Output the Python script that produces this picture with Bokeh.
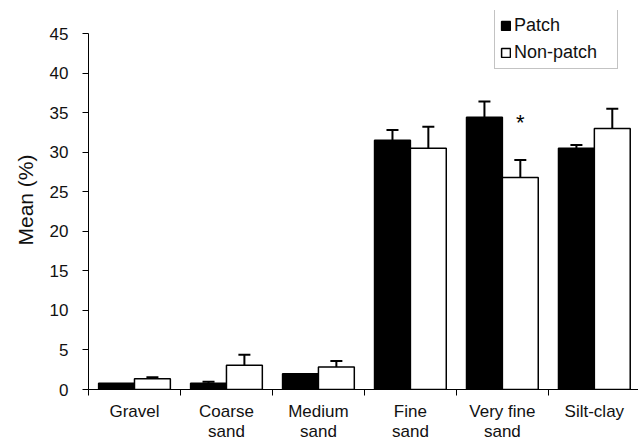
from bokeh.plotting import figure
from bokeh.models import (ColumnDataSource, FixedTicker, Whisker, TeeHead, Legend, LegendItem,
                          Range1d)
from bokeh.core.properties import value
from bokeh.embed import file_html
from bokeh.resources import INLINE

categories = ["Gravel", "Coarse\nsand", "Medium\nsand", "Fine\nsand", "Very fine\nsand", "Silt-clay"]
patch = [0.8, 0.8, 2.0, 31.5, 34.4, 30.5]
patch_err = [0.0, 0.17, 0.0, 1.3, 2.0, 0.4]
nonpatch = [1.35, 3.05, 2.85, 30.5, 26.8, 33.0]
nonpatch_err = [0.2, 1.35, 0.75, 2.7, 2.2, 2.5]
y_ticks = [0, 5, 10, 15, 20, 25, 30, 35, 40, 45]
sig_index = 4  # asterisk above non-patch bar of "Very fine sand"

FONT = "Liberation Sans"
n = len(categories)
off = 0.195
bw = 0.39
centers = [i + 0.5 for i in range(n)]

p = figure(width=638, height=444, output_backend="svg", toolbar_location=None,
           x_range=Range1d(0, 5.98), y_range=Range1d(0, 47.91),
           min_border_left=88, min_border_right=0, min_border_top=10, min_border_bottom=40)
p.outline_line_color = None
p.xgrid.grid_line_color = None
p.ygrid.grid_line_color = None
p.background_fill_color = "white"

src_p = ColumnDataSource(dict(x=[c - off for c in centers], top=patch))
src_n = ColumnDataSource(dict(x=[c + off for c in centers], top=nonpatch))

# error bars (upper only)
for xs, vs, es in ((src_p.data["x"], patch, patch_err), (src_n.data["x"], nonpatch, nonpatch_err)):
    keep = [k for k in range(n) if es[k] > 0]
    ws = ColumnDataSource(dict(x=[xs[k] for k in keep], lo=[vs[k] for k in keep],
                               hi=[vs[k] + es[k] for k in keep]))
    w = Whisker(source=ws, base="x", lower="lo", upper="hi", line_color="black", line_width=2,
                upper_head=TeeHead(size=12, line_color="black", line_width=2), lower_head=None)
    p.add_layout(w)

r1 = p.vbar(x="x", top="top", width=bw, source=src_p, fill_color="black", line_color="black",
            line_width=1.5)
r2 = p.vbar(x="x", top="top", width=bw, source=src_n, fill_color="white", line_color="black",
            line_width=1.5)

# significance asterisk
p.text(x=[centers[sig_index] + off], y=[nonpatch[sig_index] + nonpatch_err[sig_index] + 4.8],
       text=["*"], text_font=value(FONT), text_font_size="22px", text_align="center",
       text_baseline="middle", text_color="black")

# x axis: ticks at category boundaries, labels at centers
xa = p.xaxis[0]
xa.ticker = FixedTicker(ticks=centers, minor_ticks=list(range(n + 1)))
xa.major_label_overrides = {c: lab for c, lab in zip(centers, categories)}
xa.major_tick_out = 0
xa.major_tick_in = 0
xa.minor_tick_out = 6
xa.minor_tick_in = 0
xa.minor_tick_line_color = "black"
xa.axis_line_color = "black"
xa.major_label_text_font = FONT
xa.major_label_text_font_size = "17px"
xa.major_label_text_color = "#111111"
xa.major_label_standoff = 6
xa.major_label_text_line_height = 1.1

ya = p.yaxis[0]
ya.ticker = FixedTicker(ticks=y_ticks)
ya.bounds = (0, 45)
ya.minor_tick_line_color = None
ya.major_tick_out = 6
ya.major_tick_in = 0
ya.axis_line_color = "black"
ya.major_tick_line_color = "black"
ya.major_label_text_font = FONT
ya.major_label_text_font_size = "17px"
ya.major_label_text_color = "#111111"
ya.major_label_standoff = 14
ya.axis_label = "Mean (%)"
ya.axis_label_text_font = FONT
ya.axis_label_text_font_size = "21px"
ya.axis_label_text_font_style = "normal"
ya.axis_label_text_color = "#111111"
ya.axis_label_standoff = 10

legend = Legend(items=[LegendItem(label="Patch", renderers=[r1]),
                       LegendItem(label="Non-patch", renderers=[r2])],
                location=(406, 320), orientation="vertical")
legend.label_text_font = FONT
legend.label_text_font_size = "18px"
legend.label_text_color = "#111111"
legend.glyph_width = 11
legend.glyph_height = 11
legend.label_standoff = 3
legend.label_width = 98
legend.spacing = 6
legend.padding = 5
legend.margin = 0
legend.label_height = 21
legend.border_line_color = "#888888"
legend.border_line_width = 1
legend.background_fill_color = "white"
p.add_layout(legend, "center")

open("out.html", "w").write(file_html(p, INLINE))
